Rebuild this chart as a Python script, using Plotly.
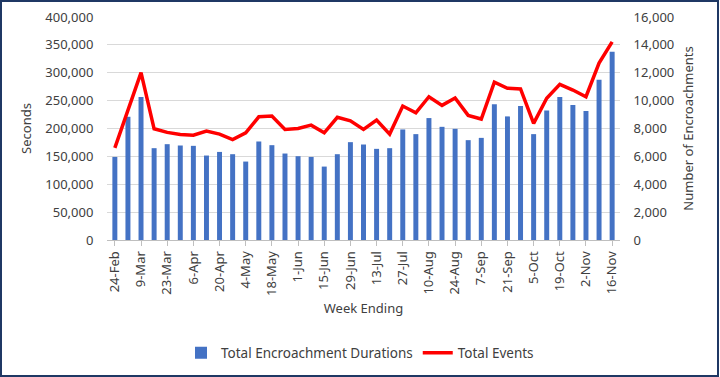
import plotly.graph_objects as go

weeks = ["24-Feb", "3-Mar", "9-Mar", "16-Mar", "23-Mar", "30-Mar", "6-Apr", "13-Apr",
         "20-Apr", "27-Apr", "4-May", "11-May", "18-May", "25-May", "1-Jun", "8-Jun",
         "15-Jun", "22-Jun", "29-Jun", "6-Jul", "13-Jul", "20-Jul", "27-Jul", "3-Aug",
         "10-Aug", "17-Aug", "24-Aug", "31-Aug", "7-Sep", "14-Sep", "21-Sep", "28-Sep",
         "5-Oct", "12-Oct", "19-Oct", "26-Oct", "2-Nov", "9-Nov", "16-Nov"]

durations = [149000, 221000, 256500, 164700, 171900, 169500, 168900, 151500,
             158000, 153900, 140700, 176700, 170100, 155100, 150300, 149000,
             131700, 153900, 175500, 171300, 163500, 164700, 198300, 189900,
             218700, 203000, 199400, 179100, 183200, 243300, 221700, 240300,
             189900, 232500, 256500, 242100, 231300, 287600, 337500]

events = [6610, 9300, 12010, 7980, 7720, 7570, 7520, 7810,
          7600, 7210, 7690, 8840, 8890, 7930, 8000, 8240,
          7690, 8800, 8550, 7930, 8600, 7600, 9610, 9130,
          10280, 9660, 10190, 8940, 8680, 11320, 10890, 10840,
          8370, 10170, 11170, 10760, 10280, 12690, 14220]

tick_labels = weeks[::2]

FONT = "Noto Sans"
TXT = "#404040"

fig = go.Figure()
fig.add_trace(go.Bar(x=weeks, y=durations, name="Total Encroachment Durations",
                     marker=dict(color="#4472C4", line=dict(width=0)), width=0.38))
fig.add_trace(go.Scatter(x=weeks, y=events, name="Total Events", yaxis="y2",
                         mode="lines", line=dict(color="#FF0000", width=3.5)))

L, R, T, B = 107, 100, 17, 137
W, H = 720, 377
pw, ph = W - L - R, H - T - B

fig.update_layout(
    width=W, height=H,
    margin=dict(l=L, r=R, t=T, b=B, autoexpand=False),
    paper_bgcolor="white", plot_bgcolor="white",
    font=dict(family=FONT, size=12, color=TXT),
    showlegend=True,
    legend=dict(orientation="h", x=0.5, xref="container", xanchor="center",
                y=1 - 353 / H, yref="container", yanchor="middle",
                font=dict(size=13.5, color=TXT), traceorder="normal",
                itemwidth=30, bgcolor="rgba(0,0,0,0)"),
    xaxis=dict(categoryorder="array", categoryarray=weeks, automargin=False,
               tickmode="array", tickvals=tick_labels, ticktext=tick_labels,
               tickangle=-90, ticks="outside", ticklen=5, tickcolor="#BFBFBF",
               showline=True, linecolor="#BFBFBF", linewidth=1,
               showgrid=False, range=[-0.6, len(weeks) - 0.4],
               title=dict(text="Week Ending", font=dict(size=13, color=TXT), standoff=8),
               tickfont=dict(size=13, color=TXT)),
    yaxis=dict(range=[0, 400000], dtick=50000, tickformat=",", automargin=False,
               showgrid=True, gridcolor="#D9D9D9", gridwidth=1, zeroline=False,
               title=dict(text="Seconds", font=dict(size=13, color=TXT), standoff=10),
               tickfont=dict(size=13, color=TXT),
               ticks="outside", ticklen=10, tickcolor="rgba(0,0,0,0)"),
    yaxis2=dict(range=[0, 16000], dtick=2000, tickformat=",", overlaying="y", side="right",
                showgrid=False, zeroline=False, automargin=False,
                title=dict(text="Number of Encroachments", font=dict(size=13, color=TXT), standoff=10),
                tickfont=dict(size=13, color=TXT),
                ticks="outside", ticklen=10, tickcolor="rgba(0,0,0,0)"),
)

fig.add_shape(type="rect", xref="paper", yref="paper",
              x0=-(L - 1) / pw, x1=1 + (R - 2) / pw,
              y0=-(B - 1) / ph, y1=1 + (T - 1) / ph,
              line=dict(color="#1F3864", width=2), fillcolor="rgba(0,0,0,0)", layer="below")

fig.write_html("out.html", config={"displayModeBar": False},
               post_script="document.body.style.margin='0';")
